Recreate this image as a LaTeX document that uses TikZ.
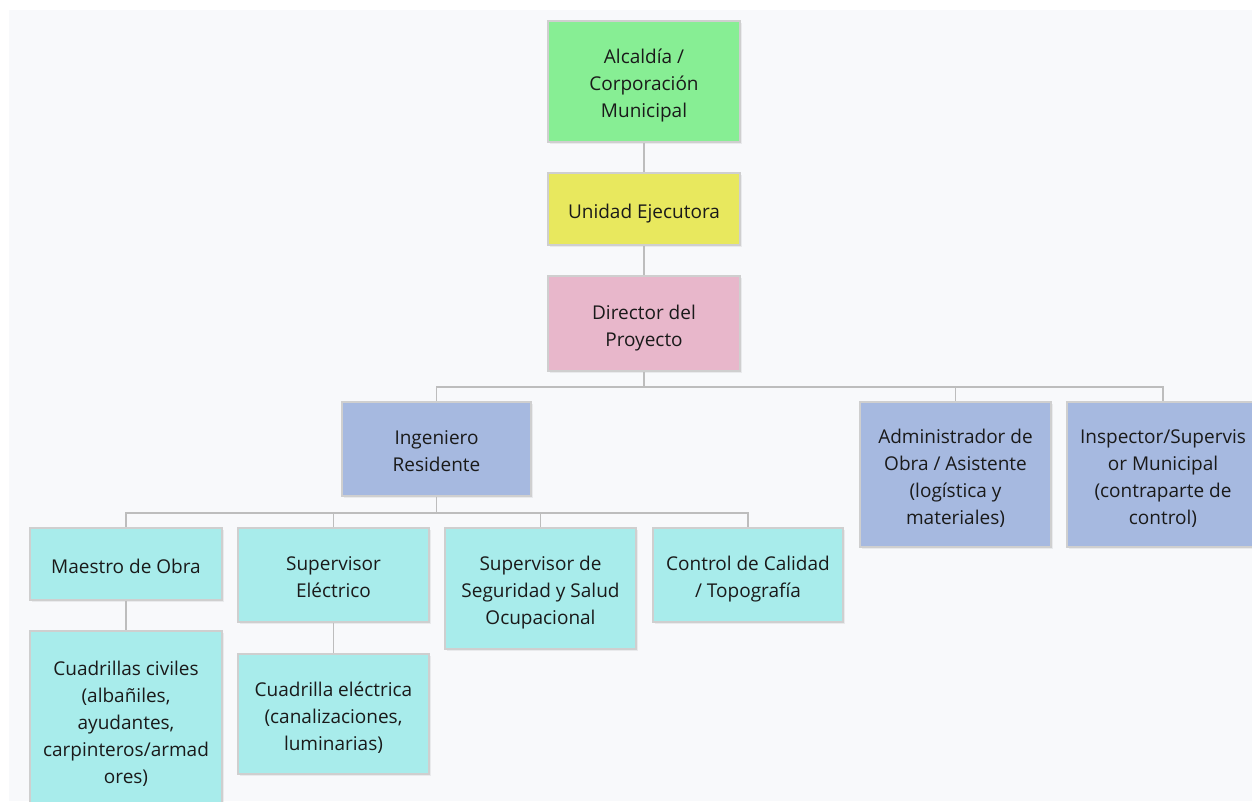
\documentclass[tikz,border=0pt]{standalone}
\usepackage{fontspec}
\setmainfont{Open Sans}
\usetikzlibrary{shadows}
\definecolor{bgc}{HTML}{F8F9FB}
\definecolor{cgreen}{HTML}{87EE94}
\definecolor{cyellow}{HTML}{E8E85E}
\definecolor{cpink}{HTML}{E8B7CB}
\definecolor{cblue}{HTML}{A6B9E0}
\definecolor{ccyan}{HTML}{A8ECEB}
\definecolor{cborder}{HTML}{CFCFCF}
\definecolor{cline}{HTML}{BDBDBD}
\definecolor{ctext}{HTML}{1A1A1A}
\newcommand\topstrut{\rule{0pt}{24pt}}
\newcommand\botstrut{\rule[-6pt]{0pt}{6pt}}
\tikzset{
  orgbox/.style={draw=cborder, line width=1.2pt, align=center, inner sep=0pt,
    text=ctext, font=\fontsize{19}{27}\selectfont,
    drop shadow={opacity=0.12, shadow xshift=1.5pt, shadow yshift=-1.5pt}},
  conn/.style={draw=cline, line width=1.5pt}
}
\begin{document}
\begin{tikzpicture}[x=1pt,y=-1pt]
\useasboundingbox (0,0) rectangle (1252,801);
\clip (0,0) rectangle (1252,801);
\fill[white] (0,0) rectangle (1252,801);
\fill[bgc] (9,10) rectangle (1252,801);

\node[orgbox, fill=cgreen, minimum width=192pt, minimum height=121pt] (alc) at (644,81.5) {\topstrut Alcaldía /\\Corporación\\Municipal\botstrut};
\node[orgbox, fill=cyellow, minimum width=192pt, minimum height=72pt] (ue) at (644,209) {\topstrut Unidad Ejecutora\botstrut};
\node[orgbox, fill=cpink, minimum width=192pt, minimum height=95pt] (dir) at (644,323.5) {\topstrut Director del\\Proyecto\botstrut};

\node[orgbox, fill=cblue, minimum width=189pt, minimum height=94pt] (ing) at (436.5,449) {\topstrut Ingeniero\\Residente\botstrut};
\node[orgbox, fill=cblue, minimum width=191pt, minimum height=145pt] (adm) at (955.5,474.5) {\topstrut Administrador de\\Obra / Asistente\\(logística y\\materiales)\botstrut};
\node[orgbox, fill=cblue, minimum width=192pt, minimum height=145pt] (insp) at (1163,474.5) {\topstrut Inspector/Supervis\\or Municipal\\(contraparte de\\control)\botstrut};

\node[orgbox, fill=ccyan, minimum width=192pt, minimum height=72pt] (mae) at (126,564) {\topstrut Maestro de Obra\botstrut};
\node[orgbox, fill=ccyan, minimum width=191pt, minimum height=94pt] (sel) at (333.5,575) {\topstrut Supervisor\\Eléctrico\botstrut};
\node[orgbox, fill=ccyan, minimum width=191pt, minimum height=121pt] (sss) at (540.5,588.5) {\topstrut Supervisor de\\Seguridad y Salud\\Ocupacional\botstrut};
\node[orgbox, fill=ccyan, minimum width=190pt, minimum height=94pt] (ccal) at (748,575) {\topstrut Control de Calidad\\/ Topografía\botstrut};

\node[orgbox, fill=ccyan, minimum width=192pt, minimum height=178pt] (cuc) at (126,720) {\topstrut Cuadrillas civiles\\(albañiles,\\ayudantes,\\carpinteros/armad\\ores)\botstrut};
\node[orgbox, fill=ccyan, minimum width=191pt, minimum height=120pt] (cue) at (333.5,714) {\topstrut Cuadrilla eléctrica\\(canalizaciones,\\luminarias)\botstrut};

\coordinate (b1) at (644,387);
\coordinate (b2) at (436.5,513);

\draw[conn] (alc.south) -- (ue.north);
\draw[conn] (ue.south) -- (dir.north);
\draw[conn] (dir.south) -- (b1);
\draw[conn] (b1) -| (ing.north);
\draw[conn] (b1) -| (adm.north);
\draw[conn] (b1) -| (insp.north);
\draw[conn] (ing.south) -- (b2);
\draw[conn] (b2) -| (mae.north);
\draw[conn] (b2) -| (sel.north);
\draw[conn] (b2) -| (sss.north);
\draw[conn] (b2) -| (ccal.north);
\draw[conn] (mae.south) -- (cuc.north);
\draw[conn] (sel.south) -- (cue.north);
\end{tikzpicture}
\end{document}
